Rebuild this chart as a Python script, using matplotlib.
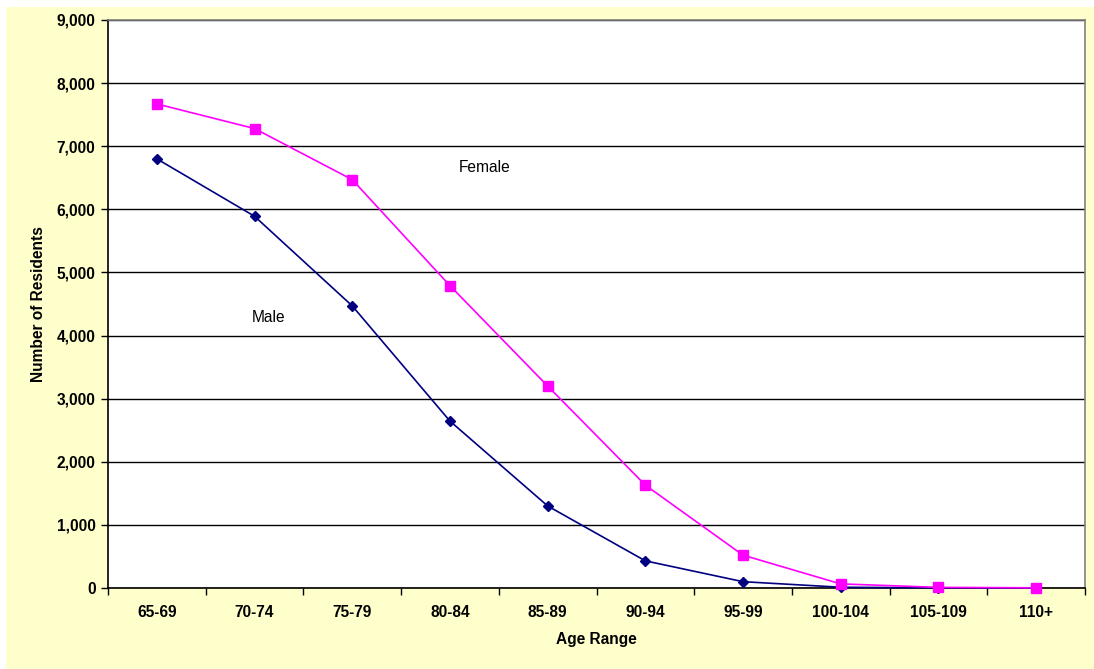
import numpy as np
import matplotlib
matplotlib.use("Agg")
import matplotlib.pyplot as plt
from matplotlib.patches import Rectangle
from matplotlib.ticker import FuncFormatter, FixedLocator

age_ranges = ["65-69", "70-74", "75-79", "80-84", "85-89",
              "90-94", "95-99", "100-104", "105-109", "110+"]
female = [7670, 7280, 6470, 4790, 3200, 1630, 520, 65, 10, 3]
male = [6800, 5890, 4470, 2645, 1300, 430, 100, 12, 2, 0]

plt.rcParams['font.family'] = ['Liberation Sans', 'DejaVu Sans']
fs = 11.2

fig = plt.figure(figsize=(10.94, 6.69), dpi=100)
fig.patch.set_facecolor("white")
fig.patches.append(Rectangle((6 / 1094, 0), 1 - 6 / 1094, 1 - 7 / 669,
                             transform=fig.transFigure, facecolor="#FFFFCC",
                             edgecolor="none", zorder=-10))

ax = fig.add_axes([108 / 1094, 1 - 588 / 669, 977 / 1094, 568 / 669])
ax.set_facecolor("white")

x = np.arange(len(age_ranges))
ax.plot(x, male, color="#000080", marker="D", markersize=5, lw=1.2,
        clip_on=False, zorder=3)
ax.plot(x, female, color="#FF00FF", marker="s", markersize=7, lw=1.2,
        clip_on=False, zorder=4)

ax.set_xlim(-0.5, len(age_ranges) - 0.5)
ax.set_ylim(0, 9000)
ax.set_yticks(np.arange(0, 9001, 1000))
ax.yaxis.set_major_formatter(FuncFormatter(lambda v, p: f"{int(v):,}"))
ax.grid(axis="y", color="black", lw=1.0)
ax.set_axisbelow(True)

ax.set_xticks(x)
ax.set_xticklabels(age_ranges)
ax.xaxis.set_minor_locator(FixedLocator(np.arange(-0.5, len(age_ranges), 1)))
ax.tick_params(axis="x", which="major", length=0, pad=12)
ax.tick_params(axis="x", which="minor", length=5, width=1, direction="out")
ax.tick_params(axis="y", length=5, width=1, direction="out", pad=4)
for lab in ax.get_xticklabels() + ax.get_yticklabels():
    lab.set_fontweight("bold")
    lab.set_fontsize(fs)

for s in ["left", "bottom"]:
    ax.spines[s].set_color("black")
    ax.spines[s].set_linewidth(1.2)
for s in ["top", "right"]:
    ax.spines[s].set_color("#808080")
    ax.spines[s].set_linewidth(1.2)

ax.set_xlabel("Age Range", fontsize=fs, fontweight="bold", labelpad=9)
ax.set_ylabel("Number of Residents", fontsize=fs, fontweight="bold", labelpad=8)

ax.text(3.36, 6656, "Female", fontsize=fs, ha="center", va="center")
ax.text(1.14, 4279, "Male", fontsize=fs, ha="center", va="center")

fig.savefig("out.png", dpi=100)
